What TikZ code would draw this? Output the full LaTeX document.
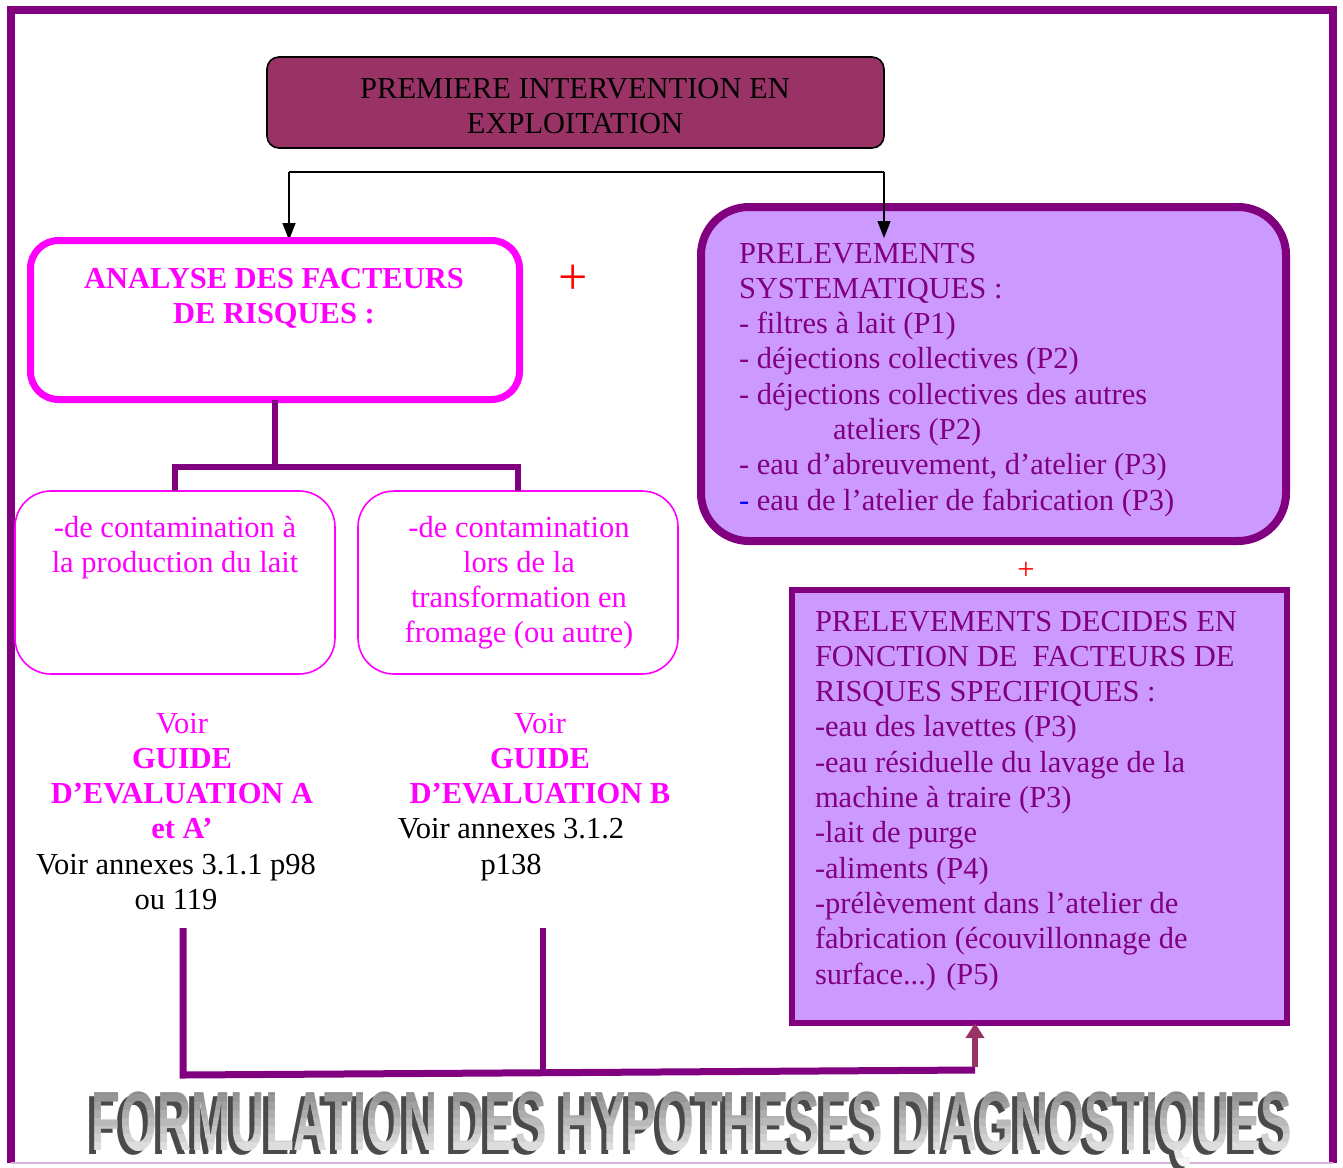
\documentclass[tikz,border=0pt]{standalone}
\usepackage{fontspec}
\setmainfont{Liberation Serif}
\newfontfamily\titlefont{Liberation Sans}
\usetikzlibrary{arrows.meta}
\definecolor{mag}{HTML}{FF00FF}
\definecolor{purp}{HTML}{800080}
\definecolor{lilac}{HTML}{CC99FF}
\definecolor{plum}{HTML}{993366}
\definecolor{shadowgray}{HTML}{4A4A4A}
\newcommand\fsz{\fontsize{30.5}{35.3}\selectfont}
\newcommand\titletext{\resizebox{1200pt}{\height}{\titlefont\bfseries\fontsize{84}{84}\selectfont FORMULATION DES HYPOTHESES DIAGNOSTIQUES}}

\begin{document}
\begin{tikzpicture}[x=1pt,y=-1pt,
  txt/.style={inner sep=0pt, outer sep=0pt, font=\fsz, anchor=north},
  pline/.style={draw=purp, line width=6pt},
  blk/.style={draw=black, line width=1.6pt},
  arr/.style={blk, -{Triangle[length=17pt,width=13pt]}},
  plumarr/.style={draw=plum, line width=5.5pt, -{Triangle[length=15pt,width=18pt]}},
  boxshape/.style={inner sep=0pt, outer sep=0pt}]
\useasboundingbox[fill=white] (0,0) rectangle (1343,1167);

% frame
\draw[purp, line width=8pt] (11,1163) -- (11,10) -- (1333,10) -- (1333,1163);
\draw[purp!30, line width=1.5pt] (11,1163) -- (1333,1163);

% top box
\node[boxshape, draw=black, line width=1.6pt, fill=plum, rounded corners=12pt,
      minimum width=617pt, minimum height=91pt] (top) at (575.5,102.5) {};
\node[txt, align=center] (toptxt) at (575,73.8) {\strut PREMIERE INTERVENTION EN\\EXPLOITATION};

% split arrows
\coordinate (jl) at (289,172);
\coordinate (jr) at (884,172);
\coordinate (tl) at (289,240);
\coordinate (tr) at (884,238);
\draw[blk] (jl) -- (jr);
\draw[arr] (jl) -- (tl);

% analyse box
\node[boxshape, draw=mag, line width=7pt, rounded corners=28pt,
      minimum width=489pt, minimum height=159pt] (analyse) at (275,320) {};
\node[txt, align=center, text=mag, font=\fsz\bfseries] (analysetxt) at (274,263.3)
  {\strut ANALYSE DES FACTEURS\\DE RISQUES :};
\node[inner sep=0pt, text=red, font=\fontsize{52}{52}\selectfont] (plus1) at (573,280) {+};

% systematic box
\node[boxshape, draw=purp, fill=lilac, line width=8pt, rounded corners=48pt,
      minimum width=585pt, minimum height=334pt] (syst) at (993.5,374) {};
\node[txt, anchor=north west, align=left, text=purp] (systtxt) at (739,238.3)
  {\strut PRELEVEMENTS\\
   SYSTEMATIQUES :\\
   - filtres à lait (P1)\\
   - déjections collectives (P2)\\
   - déjections collectives des autres\\
   \hspace*{94pt}ateliers (P2)\\
   - eau d’abreuvement, d’atelier (P3)\\
   {\color{blue}-} eau de l’atelier de fabrication (P3)};
\draw[arr] (jr) -- (tr);

\node[inner sep=0pt, text=red, font=\fsz] (plus2) at (1026,571) {+};

% tree under analyse
\node[boxshape, draw=mag, line width=1.6pt, rounded corners=36pt,
      minimum width=320pt, minimum height=183pt] (b1) at (175,582.5) {};
\node[boxshape, draw=mag, line width=1.6pt, rounded corners=36pt,
      minimum width=320pt, minimum height=183pt] (b2) at (518,582.5) {};
\coordinate (mid) at (275,467);
\draw[pline] (analyse.south) -- (mid);
\draw[pline] (b1.north) -- (b1.north |- mid) -- (b2.north |- mid) -- (b2.north);

\node[txt, align=center, text=mag] (b1txt) at (175,512.3)
  {\strut -de contamination à\\la production du lait};
\node[txt, align=center, text=mag] (b2txt) at (519,512.3)
  {\strut -de contamination\\lors de la\\transformation en\\fromage (ou autre)};

% guide texts
\node[txt, align=center, text=mag] (gA) at (182,708.3)
  {\strut Voir\\\textbf{GUIDE}\\\textbf{D’EVALUATION A}\\\textbf{et A’}};
\node[txt, align=center] (aA) at (176,849.5)
  {\strut Voir annexes 3.1.1 p98\\ou 119};
\node[txt, align=center, text=mag] (gB) at (540,708.3)
  {\strut Voir\\\textbf{GUIDE}\\\textbf{D’EVALUATION B}};
\node[txt, align=center] (aB) at (511,814.2)
  {\strut Voir annexes 3.1.2\\p138};

% decides box
\node[boxshape, draw=purp, fill=lilac, line width=6pt,
      minimum width=495pt, minimum height=433pt] (dec) at (1039.5,806.5) {};
\node[txt, anchor=north west, align=left, text=purp] (dectxt) at (815,606.3)
  {\strut PRELEVEMENTS DECIDES EN\\
   FONCTION DE\ \ FACTEURS DE\\
   RISQUES SPECIFIQUES :\\
   -eau des lavettes (P3)\\
   -eau résiduelle du lavage de la\\
   machine à traire (P3)\\
   -lait de purge\\
   -aliments (P4)\\
   -prélèvement dans l’atelier de\\
   fabrication (écouvillonnage de\\
   surface...) (P5)};

% bottom connectors
\coordinate (la) at (183,928);
\coordinate (lb) at (183,1075);
\coordinate (ma) at (543,928);
\coordinate (mb) at (543,1073);
\coordinate (rb) at (975,1070);
\coordinate (ra) at (975,1067);
\draw[pline] (ma) -- (mb);
\draw[pline, line width=7pt] (la) -- (lb) -- (rb);
\draw[plumarr] (ra) -- (ra |- dec.south);

% title: dark shadow, then gradient front made of clipped bands
\node[inner sep=0pt, anchor=base, text=shadowgray] (titleshadow) at (687,1154) {\titletext};
\foreach \i in {0,...,9} {
  \pgfmathsetmacro\pct{46-42*\i/9}
  \begin{scope}
    \clip (0,1086+8*\i) rectangle (1343,1094.6+8*\i);
    \node[inner sep=0pt, anchor=base, text=black!\pct] (title\i) at (692,1150) {\titletext};
  \end{scope}
}
\end{tikzpicture}
\end{document}
